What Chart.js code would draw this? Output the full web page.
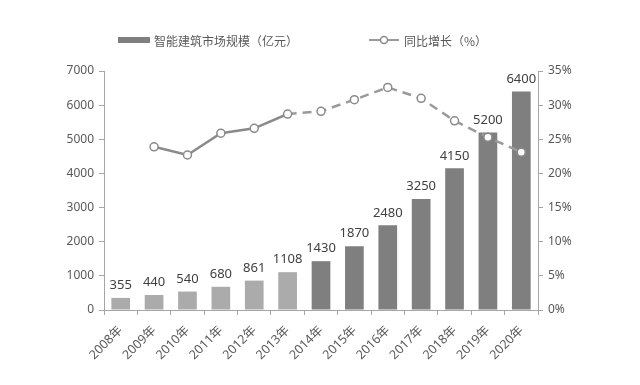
<!DOCTYPE html>
<html>
<head>
<meta charset="utf-8">
<script src="https://cdn.jsdelivr.net/npm/chart.js@4/dist/chart.umd.min.js"></script>
<style>
  html, body { margin: 0; padding: 0; background: #fff; }
  #wrap { position: relative; width: 640px; height: 385px; }
  #legend { position: absolute; top: 30px; left: 0; width: 640px; height: 20px;
    font-family: "Noto Sans CJK SC", sans-serif; font-size: 12px; color: #595959; }
  .item { position: absolute; top: 0; display: flex; align-items: center; height: 20px; }
</style>
</head>
<body>
<div id="wrap">
  <canvas id="chart" width="640" height="385"></canvas>
  <div id="legend">
    <div class="item" style="left:118px">
      <span style="display:inline-block;width:32px;height:6px;background:#7f7f7f;margin-right:4px"></span>
      <span>智能建筑市场规模（亿元）</span>
    </div>
    <div class="item" style="left:369px">
      <svg width="30" height="10" style="margin-right:5px">
        <line x1="0" y1="5" x2="30" y2="5" stroke="#999" stroke-width="2"/>
        <circle cx="15" cy="5" r="3.5" fill="#fff" stroke="#8a8a8a" stroke-width="1.5"/>
      </svg>
      <span>同比增长（%）</span>
    </div>
  </div>
</div>
<script>
// data
const years = ["2008年", "2009年", "2010年", "2011年", "2012年", "2013年", "2014年",
               "2015年", "2016年", "2017年", "2018年", "2019年", "2020年"];
const marketSize = [355, 440, 540, 680, 861, 1108, 1430, 1870, 2480, 3250, 4150, 5200, 6400];
const growthRate = [null, 23.9, 22.7, 25.9, 26.6, 28.7, 29.1, 30.8, 32.6, 31.0, 27.7, 25.3, 23.1];
const forecastFrom = 6; // 2014年 onwards drawn darker / dashed

const axisColor = "#a6a6a6";
const tickFont = { family: "'Noto Sans', 'Noto Sans CJK SC', sans-serif", size: 12 };

const barColors = marketSize.map((v, i) => i < forecastFrom ? "#ababab" : "#7f7f7f");

// value labels above the bars
const barLabels = {
    id: "barLabels",
    afterDatasetsDraw(chart) {
        const ctx = chart.ctx;
        const meta = chart.getDatasetMeta(0);
        ctx.save();
        ctx.font = "13px 'Noto Sans', sans-serif";
        ctx.fillStyle = "#404040";
        ctx.textAlign = "center";
        ctx.textBaseline = "bottom";
        meta.data.forEach((bar, i) => {
            ctx.fillText(marketSize[i], bar.x, bar.y - 6);
        });
        ctx.restore();
    }
};

new Chart(document.getElementById("chart"), {
    data: {
        labels: years,
        datasets: [
            {
                type: "bar",
                data: marketSize,
                backgroundColor: barColors,
                barPercentage: 0.56,
                categoryPercentage: 1,
                yAxisID: "y",
                order: 1
            },
            {
                type: "line",
                data: growthRate,
                yAxisID: "y1",
                borderColor: "#8a8a8a",
                borderWidth: 2.5,
                pointRadius: 4,
                pointBackgroundColor: "#fff",
                pointBorderColor: "#8a8a8a",
                pointBorderWidth: 1.5,
                tension: 0,
                segment: {
                    borderDash: ctx => ctx.p0DataIndex >= forecastFrom - 1 ? [9, 6] : undefined,
                    borderColor: ctx => ctx.p0DataIndex >= forecastFrom - 1 ? "#9a9a9a" : "#8a8a8a"
                },
                order: 0
            }
        ]
    },
    options: {
        responsive: false,
        animation: false,
        layout: { padding: { top: 71, left: 0, right: 0, bottom: 0 } },
        plugins: { legend: { display: false }, tooltip: { enabled: false } },
        scales: {
            x: {
                grid: { drawOnChartArea: false, color: axisColor, tickLength: 5 },
                border: { color: axisColor },
                ticks: { color: "#595959", font: { ...tickFont, size: 12.5 }, minRotation: 45, maxRotation: 45, padding: 8 },
                afterFit: s => { s.height = 75; }
            },
            y: {
                position: "left",
                min: 0, max: 7000,
                ticks: { stepSize: 1000, color: "#595959", font: tickFont, padding: 5,
                         callback: v => String(v) },
                grid: { drawOnChartArea: false, color: axisColor, tickLength: 5 },
                border: { color: axisColor },
                afterFit: s => { s.width = 104; }
            },
            y1: {
                position: "right",
                min: 0, max: 35,
                ticks: { stepSize: 5, color: "#595959", font: tickFont, padding: 5,
                         callback: v => v + "%" },
                grid: { drawOnChartArea: false, color: axisColor, tickLength: 5 },
                border: { color: axisColor },
                afterFit: s => { s.width = 102; }
            }
        }
    },
    plugins: [barLabels]
});
</script>
</body>
</html>
